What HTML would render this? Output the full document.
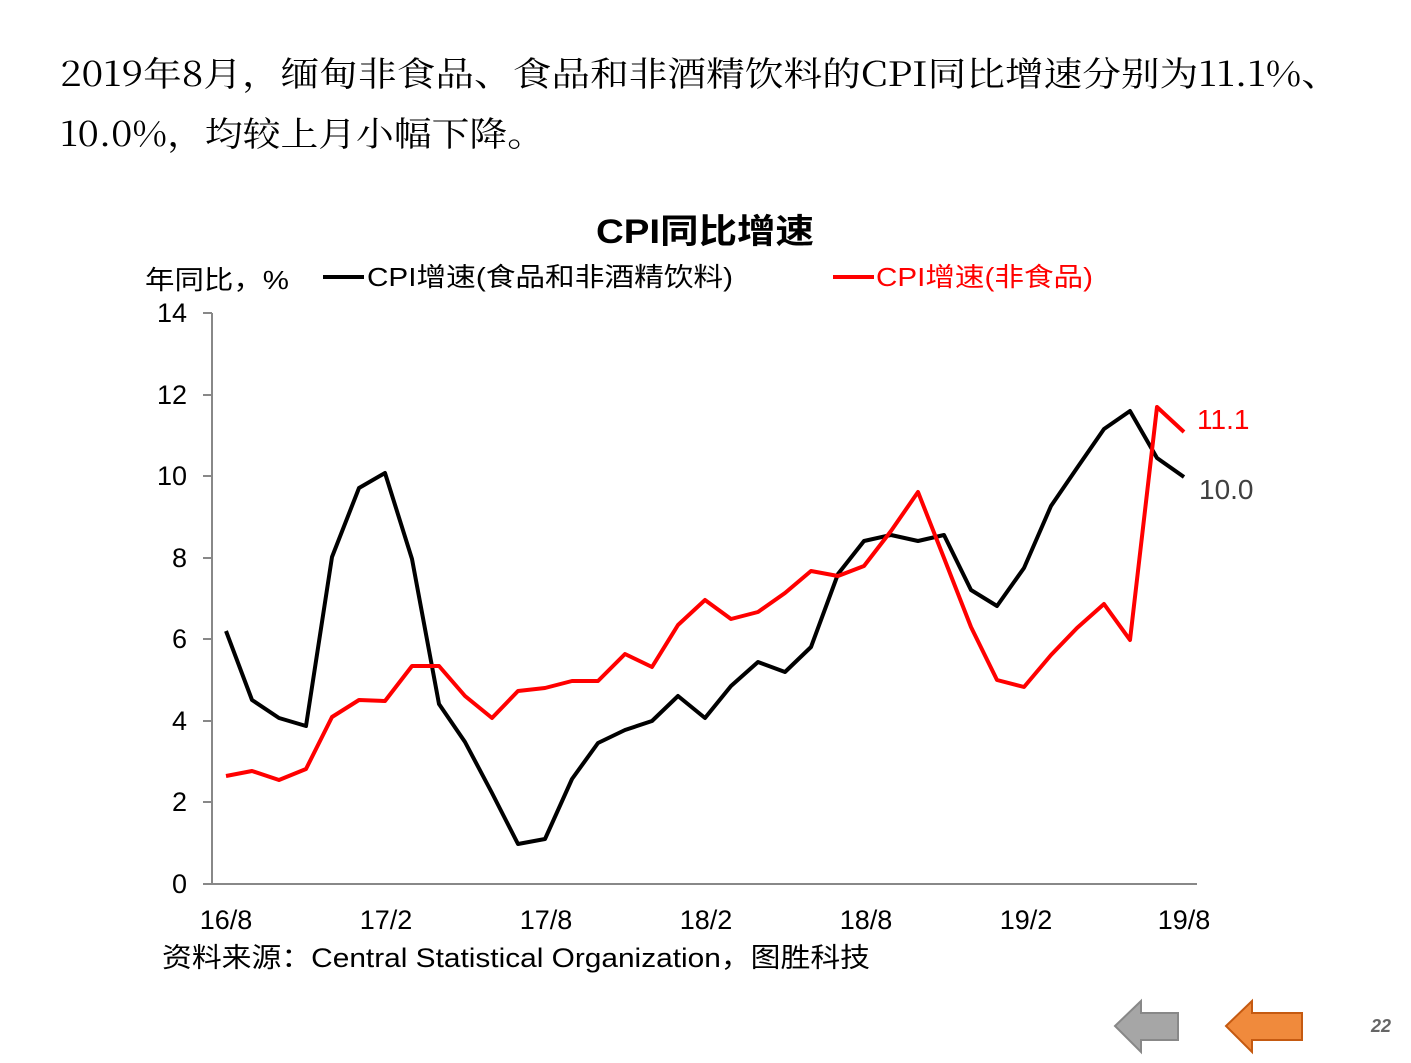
<!DOCTYPE html>
<html><head><meta charset="utf-8"><style>
body{margin:0;background:#fff;width:1411px;height:1058px;overflow:hidden}
svg text{font-family:"Liberation Sans","Noto Sans CJK SC",sans-serif}
</style></head><body>
<svg width="1411" height="1058" viewBox="0 0 1411 1058" xmlns="http://www.w3.org/2000/svg">
<text x="60" y="86" font-size="34" textLength="1280" lengthAdjust="spacingAndGlyphs" style="font-family:'Noto Serif CJK SC','Liberation Serif',serif" fill="#000">2019年8月，缅甸非食品、食品和非酒精饮料的CPI同比增速分别为11.1%、</text>
<text x="60" y="146" font-size="34" textLength="485" lengthAdjust="spacingAndGlyphs" style="font-family:'Noto Serif CJK SC','Liberation Serif',serif" fill="#000">10.0%，均较上月小幅下降。</text>
<text x="596" y="243" font-size="34" font-weight="bold" textLength="218" lengthAdjust="spacingAndGlyphs">CPI同比增速</text>
<text x="145" y="289" font-size="26" textLength="144" lengthAdjust="spacingAndGlyphs">年同比，%</text>
<line x1="323" y1="277" x2="364" y2="277" stroke="#000" stroke-width="4"/>
<text x="367" y="286" font-size="26" textLength="366" lengthAdjust="spacingAndGlyphs">CPI增速(食品和非酒精饮料)</text>
<line x1="833" y1="277" x2="874" y2="277" stroke="#f00" stroke-width="4"/>
<text x="876" y="286" font-size="26" fill="#f00" textLength="217" lengthAdjust="spacingAndGlyphs">CPI增速(非食品)</text>
<g stroke="#888" stroke-width="2" fill="none">
<line x1="212" y1="313" x2="212" y2="884"/>
<line x1="212" y1="884" x2="1197" y2="884"/>
<line x1="203" y1="313" x2="212" y2="313"/><line x1="203" y1="395" x2="212" y2="395"/>
<line x1="203" y1="476" x2="212" y2="476"/><line x1="203" y1="558" x2="212" y2="558"/>
<line x1="203" y1="639" x2="212" y2="639"/><line x1="203" y1="721" x2="212" y2="721"/>
<line x1="203" y1="802" x2="212" y2="802"/><line x1="203" y1="884" x2="212" y2="884"/>
</g>
<g font-size="27" text-anchor="end" fill="#000">
<text x="187" y="322">14</text><text x="187" y="404">12</text><text x="187" y="485">10</text>
<text x="187" y="567">8</text><text x="187" y="648">6</text><text x="187" y="730">4</text>
<text x="187" y="811">2</text><text x="187" y="893">0</text>
</g>
<g font-size="27" text-anchor="middle">
<text x="226" y="929">16/8</text><text x="386" y="929">17/2</text><text x="546" y="929">17/8</text>
<text x="706" y="929">18/2</text><text x="866" y="929">18/8</text><text x="1026" y="929">19/2</text>
<text x="1184" y="929">19/8</text>
</g>
<polyline fill="none" stroke="#000" stroke-width="4" stroke-linejoin="round" points="226,631 252,700 279,718 306,726 332,557 359,488 385,473 412,559 439,704 465,742 492,793 518,844 545,839 572,779 598,743 625,730 652,721 678,696 705,718 731,686 758,662 785,672 811,647 838,574 864,541 891,535 918,541 944,535 971,590 997,606 1024,568 1051,506 1077,468 1104,429 1130,411 1157,458 1184,477"/>
<polyline fill="none" stroke="#f00" stroke-width="4" stroke-linejoin="round" points="226,776 252,771 279,780 306,769 332,717 359,700 385,701 412,666 439,666 465,696 492,718 518,691 545,688 572,681 598,681 625,654 652,667 678,625 705,600 731,619 758,612 785,593 811,571 838,576 864,566 891,531 918,492 944,558 971,627 997,680 1024,687 1051,655 1077,628 1104,604 1130,640 1157,407 1184,432"/>
<text x="1197" y="429" font-size="28" fill="#f00">11.1</text>
<text x="1199" y="499" font-size="28" fill="#404040">10.0</text>
<text x="162" y="967" font-size="27" textLength="708" lengthAdjust="spacingAndGlyphs">资料来源：Central Statistical Organization，图胜科技</text>
<polygon points="1115,1026 1141,1001 1141,1013 1178,1013 1178,1040 1141,1040 1141,1052" fill="#a6a6a6" stroke="#888" stroke-width="2"/>
<polygon points="1226,1026 1252,1001 1252,1013 1302,1013 1302,1040 1252,1040 1252,1052" fill="#f08a3c" stroke="#c55a11" stroke-width="2"/>
<text x="1371" y="1032" font-size="18" font-weight="bold" font-style="italic" fill="#666">22</text>
</svg>
</body></html>
